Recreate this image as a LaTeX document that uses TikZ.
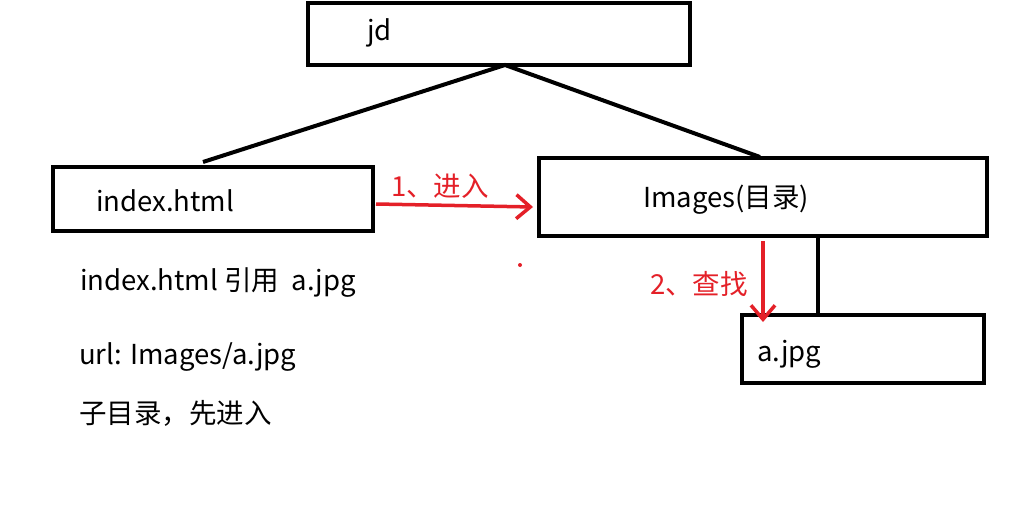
\documentclass[tikz,border=0pt]{standalone}
\usepackage{fontspec}
\setmainfont{Noto Sans CJK SC}
\usetikzlibrary{arrows.meta}
\definecolor{rd}{RGB}{228,32,40}
\begin{document}
\begin{tikzpicture}[x=1pt,y=-1pt,
  box/.style={draw=black,line width=4pt},
  conn/.style={draw=black,line width=4pt},
  redarrow/.style={draw=rd,line width=3.5pt,-{Straight Barb[length=14pt,width=24pt,line width=3.5pt]}},
  lbl/.style={font=\fontsize{27.5}{30}\selectfont,inner sep=0pt,anchor=west},
  rlbl/.style={lbl,text=rd}]
\useasboundingbox (0,0) rectangle (1018,524);
\fill[white] (0,0) rectangle (1018,524);
\draw[box] (308,3) rectangle (690,65);
\node[lbl] (jd) at (367,33) {jd};
\draw[box] (53,167) rectangle (373,231);
\node[lbl] (idx) at (96,201) {index.html};
\draw[box] (539,158) rectangle (987,236);
\node[lbl] (img) at (643,200) {Images(目录)};
\draw[box] (742,315) rectangle (984,383);
\node[lbl] (ajpg) at (757,354) {a.jpg};
\coordinate (top) at (505,65);
\coordinate (l) at (203,162);
\coordinate (r) at (760,157);
\draw[conn] (l) -- (top) -- (r);
\coordinate (vt) at (818,236);
\coordinate (vb) at (818,315);
\draw[conn] (vt) -- (vb);
\coordinate (a1s) at (376,204);
\coordinate (a1e) at (533,207);
\draw[redarrow] (a1s) -- (a1e);
\node[rlbl] (l1) at (391,186) {1、进入};
\fill[rd] (520,265) circle (2pt);
\coordinate (a2s) at (763,241);
\coordinate (a2e) at (763,322);
\draw[redarrow] (a2s) -- (a2e);
\node[rlbl] (l2) at (650,284) {2、查找};
\node[lbl] (t1) at (80,283) {index.html 引用 \ a.jpg};
\node[lbl] (t2) at (79,357) {url: Images/a.jpg};
\node[lbl] (t3) at (79,413) {子目录，先进入};
\end{tikzpicture}
\end{document}
